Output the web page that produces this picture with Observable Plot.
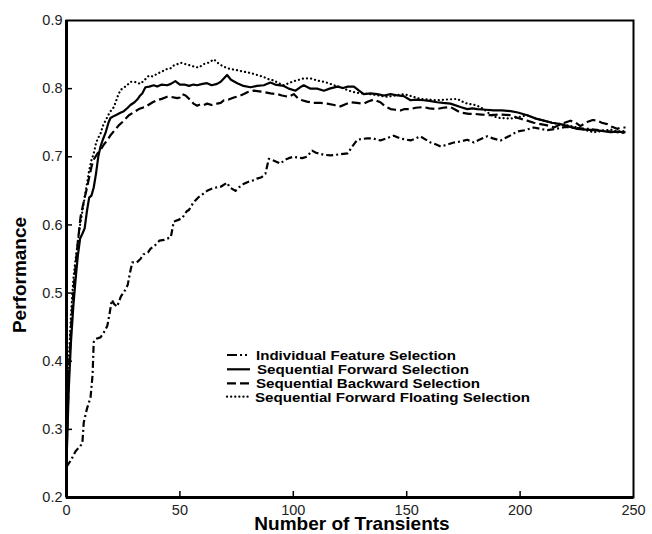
<!DOCTYPE html>
<html>
<head>
<meta charset="utf-8">
<script src="https://cdn.jsdelivr.net/npm/d3@7"></script>
<script src="https://cdn.jsdelivr.net/npm/@observablehq/plot@0.6"></script>
<style>
  html, body { margin: 0; padding: 0; background: #fff; }
  svg { font-family: "Liberation Sans", Arial, sans-serif; }
</style>
</head>
<body>
<div id="chart"></div>
<script>
const seriesNames = [
  "Individual Feature Selection",
  "Sequential Forward Selection",
  "Sequential Backward Selection",
  "Sequential Forward Floating Selection"
];
const xTicks = [0, 50, 100, 150, 200, 250];
const yTicks = [0.2, 0.3, 0.4, 0.5, 0.6, 0.7, 0.8, 0.9];
const xTitle = "Number of Transients";
const yTitle = "Performance";

const ifs = [[0,0.245],[2,0.255],[4,0.268],[6,0.275],[7,0.28],[7.6,0.31],[9,0.33],[10.6,0.347],[11.5,0.38],[12,0.428],[13,0.433],[15,0.435],[17,0.445],[18,0.452],[19,0.47],[20,0.49],[21,0.484],[22.3,0.48],[24,0.495],[26,0.505],[27,0.512],[28,0.53],[29,0.545],[31,0.545],[32.6,0.55],[34,0.557],[36,0.56],[37,0.565],[39,0.57],[41,0.577],[43,0.578],[46,0.582],[47.3,0.605],[49,0.607],[51,0.61],[53,0.62],[54,0.622],[56,0.633],[58,0.64],[60,0.645],[62,0.65],[64,0.653],[66,0.655],[68,0.656],[70.8,0.662],[72,0.655],[74.5,0.65],[76,0.655],[78,0.66],[80,0.663],[82,0.665],[84,0.668],[86,0.67],[87.7,0.675],[89.2,0.697],[91,0.695],[93,0.692],[94.4,0.69],[96,0.695],[98,0.698],[100,0.7],[102,0.699],[104,0.698],[106,0.7],[108.3,0.709],[110,0.706],[113.5,0.703],[116.4,0.702],[119,0.703],[121,0.704],[124,0.705],[126,0.715],[128.2,0.725],[130,0.726],[132.6,0.727],[135,0.727],[138.4,0.724],[141,0.727],[144.3,0.731],[147,0.727],[151.7,0.724],[154,0.727],[156,0.73],[158,0.726],[160.5,0.721],[163,0.718],[165,0.715],[168,0.718],[170.8,0.721],[173,0.722],[176.7,0.725],[179.6,0.721],[182,0.725],[185.5,0.73],[188,0.727],[191.4,0.724],[195,0.73],[198.7,0.737],[202,0.739],[206,0.743],[209,0.741],[212,0.739],[216,0.741],[220,0.744],[225,0.742],[230,0.741],[235,0.739],[240,0.737],[246,0.735]];

const sfs = [[0,0.25],[1,0.36],[2,0.43],[3,0.48],[4,0.52],[5,0.555],[6,0.58],[7,0.587],[8,0.595],[9,0.62],[10,0.64],[11,0.643],[12,0.655],[13,0.675],[14,0.7],[15,0.715],[16,0.725],[17.2,0.735],[18.5,0.75],[19.4,0.757],[21,0.76],[22.3,0.762],[24,0.765],[25.3,0.767],[27,0.772],[28.2,0.776],[30,0.78],[31.2,0.784],[32.5,0.79],[33.4,0.793],[34.8,0.802],[36.5,0.803],[38.5,0.805],[40,0.803],[42,0.806],[44.4,0.805],[46,0.807],[48,0.811],[50,0.806],[52,0.806],[54,0.804],[56,0.806],[57.6,0.805],[60,0.807],[62,0.808],[64,0.805],[66.4,0.807],[68,0.81],[70.8,0.82],[72.5,0.813],[75.3,0.808],[78,0.804],[81.1,0.802],[84,0.804],[87,0.805],[89.9,0.809],[92,0.806],[95.8,0.804],[98,0.8],[101,0.797],[103,0.802],[104.6,0.805],[107.6,0.8],[110.5,0.8],[113.5,0.797],[116,0.8],[119.4,0.803],[122,0.801],[124,0.803],[126.7,0.803],[129,0.797],[131.1,0.792],[134,0.793],[137,0.792],[140,0.79],[142.9,0.792],[146,0.79],[148.7,0.789],[151.7,0.783],[154,0.784],[157.5,0.783],[160,0.782],[163.4,0.78],[166,0.779],[169.3,0.778],[173.7,0.773],[176.7,0.77],[179,0.771],[181.1,0.77],[185,0.769],[188.4,0.768],[192,0.768],[195.8,0.767],[199,0.765],[203.1,0.761],[207,0.756],[210.5,0.753],[214,0.75],[217.8,0.748],[221,0.745],[225.2,0.741],[229,0.74],[232.5,0.739],[236,0.738],[239.9,0.736],[243,0.737],[246.5,0.736]];

const sbs = [[0,0.26],[1,0.38],[2,0.45],[3,0.5],[4,0.54],[5,0.575],[6.2,0.612],[7,0.625],[8,0.64],[9.1,0.655],[10,0.67],[11,0.685],[12,0.696],[13.5,0.704],[15,0.71],[16.5,0.718],[17.9,0.724],[19.5,0.732],[21,0.738],[23,0.746],[25,0.752],[27.5,0.761],[29.5,0.765],[31.9,0.77],[33.5,0.772],[35.6,0.775],[38,0.78],[40,0.783],[42,0.785],[44.4,0.788],[46,0.788],[48.8,0.786],[50,0.787],[51,0.792],[52.5,0.79],[54.7,0.783],[56,0.778],[57.6,0.775],[59,0.777],[60.5,0.776],[62,0.778],[64,0.776],[66.4,0.778],[68,0.779],[69.4,0.783],[71.5,0.784],[73.8,0.787],[76,0.789],[78.2,0.792],[80,0.795],[82.6,0.797],[85,0.796],[87,0.795],[90,0.793],[92.9,0.792],[95,0.79],[98,0.788],[100.2,0.792],[102,0.786],[103.9,0.783],[106,0.781],[109,0.779],[112,0.779],[114.9,0.778],[118,0.776],[120.8,0.774],[123,0.777],[125.2,0.78],[128,0.779],[131.1,0.778],[133,0.781],[135.5,0.784],[138.4,0.78],[140.5,0.774],[142.9,0.77],[145,0.769],[147.3,0.768],[149,0.77],[151.7,0.77],[154,0.772],[157.5,0.773],[160,0.771],[163.4,0.77],[166,0.772],[169.3,0.773],[171.5,0.769],[173.7,0.765],[177.4,0.763],[179.6,0.763],[183,0.762],[187,0.761],[191,0.762],[195.8,0.761],[199,0.757],[203.1,0.753],[206,0.75],[209,0.748],[212,0.746],[214.9,0.743],[218,0.748],[222.2,0.753],[224.5,0.75],[226.6,0.745],[228,0.748],[229.6,0.751],[232,0.754],[234,0.753],[236,0.75],[238.4,0.748],[240.5,0.744],[242.8,0.741],[244.5,0.743],[246.5,0.743]];

const sffs = [[0,0.27],[1,0.4],[2,0.47],[3,0.52],[4,0.55],[5,0.575],[6,0.6],[7,0.62],[8,0.64],[9,0.66],[10,0.68],[11,0.695],[12,0.705],[13,0.72],[14,0.728],[15,0.734],[16,0.745],[17.2,0.753],[19,0.765],[20.9,0.773],[22.5,0.788],[23.8,0.798],[25.5,0.802],[27,0.806],[28.2,0.81],[30,0.81],[32.6,0.807],[34.5,0.813],[36.3,0.819],[38,0.818],[40,0.822],[42,0.825],[44.4,0.829],[46,0.83],[47.3,0.834],[49,0.836],[50.3,0.838],[52.5,0.836],[54.7,0.834],[56.5,0.832],[58.3,0.831],[60.5,0.836],[62.5,0.838],[65,0.843],[67,0.837],[69.4,0.832],[72,0.829],[75.3,0.827],[78,0.825],[81.1,0.823],[84,0.82],[87,0.817],[89,0.814],[91.4,0.812],[93.5,0.808],[95.8,0.805],[98,0.808],[100.2,0.811],[102.5,0.813],[104.6,0.815],[107.6,0.815],[110.5,0.812],[113.5,0.81],[115.5,0.808],[117.9,0.805],[120,0.803],[122.3,0.8],[124.5,0.797],[126.7,0.795],[130,0.793],[134,0.792],[137.5,0.79],[141.4,0.788],[145,0.79],[148.7,0.792],[152,0.789],[156,0.785],[159.5,0.784],[163.4,0.783],[167.5,0.784],[172.3,0.785],[174.5,0.781],[176.7,0.778],[179,0.777],[181.1,0.775],[184,0.77],[186.5,0.763],[188.4,0.759],[191,0.757],[195.8,0.756],[199,0.758],[203.1,0.761],[207,0.756],[210.5,0.753],[214,0.75],[217.8,0.748],[221,0.746],[225.2,0.743],[229,0.739],[232.5,0.736],[236,0.738],[239.9,0.74],[243,0.737],[246.5,0.738]];

const W = 652, H = 534;
const M = {left: 66, right: 19, top: 20, bottom: 37};
const plotW = W - M.left - M.right, plotH = H - M.top - M.bottom;

const styles = [
  {dash: "7,3,2,3", cap: "butt"},
  {dash: null, cap: "butt"},
  {dash: "9,4", cap: "butt"},
  {dash: "0.1,4", cap: "round"}
];
const legendDashes = ["10,3,2,3,2,3", null, "9,4", "0.1,4"];
const seriesData = [ifs, sfs, sbs, sffs];

const lineMarks = seriesData.map((d, i) => Plot.line(d, {
  x: p => p[0], y: p => p[1],
  stroke: "#000", strokeWidth: 2.2,
  strokeDasharray: styles[i].dash ?? undefined,
  strokeLinecap: styles[i].cap,
  strokeLinejoin: "round"
}));

const chart = Plot.plot({
  width: W, height: H,
  marginLeft: M.left, marginRight: M.right, marginTop: M.top, marginBottom: M.bottom,
  style: {fontFamily: "'Liberation Sans', Arial, sans-serif", background: "#fff", color: "#000"},
  x: {domain: [0, 250]},
  y: {domain: [0.2, 0.9]},
  marks: [
    ...lineMarks,
    Plot.tickX(xTicks.slice(1, -1), {x: d => d, insetTop: plotH - 6, strokeWidth: 1.5}),
    Plot.tickY(yTicks.slice(1, -1), {y: d => d, insetRight: plotW - 6, strokeWidth: 1.5}),
    Plot.axisX({ticks: xTicks, tickSize: 0, tickPadding: 7, fontSize: 14.5, fill: "#222", label: null}),
    Plot.axisY({ticks: yTicks, tickSize: 0, tickPadding: 4, fontSize: 14.5, fill: "#222", tickFormat: d3.format(".1f"), label: null}),
    Plot.frame({strokeWidth: 2}),
    Plot.ruleX([0], {strokeWidth: 3}),
    Plot.ruleY([0.2], {strokeWidth: 3})
  ]
});
document.getElementById("chart").append(chart);

const svg = d3.select(chart);
// axis titles
svg.append("text")
  .attr("x", 352).attr("y", 530)
  .attr("text-anchor", "middle")
  .attr("font-size", 19).attr("font-weight", "bold").attr("fill", "#000")
  .text(xTitle);
svg.append("text")
  .attr("transform", "translate(26,275) rotate(-90)")
  .attr("text-anchor", "middle")
  .attr("font-size", 19).attr("font-weight", "bold").attr("fill", "#000")
  .text(yTitle);

// legend inside the plot area
const lg = svg.append("g");
const rowY = [355, 369.3, 383.3, 396.7];
const textX = [256, 257, 256, 255];
const textW = [200, 212, 224, 275];
seriesNames.forEach((name, i) => {
  lg.append("line")
    .attr("x1", 227).attr("x2", 250)
    .attr("y1", rowY[i]).attr("y2", rowY[i])
    .attr("stroke", "#000").attr("stroke-width", 2.2)
    .attr("stroke-linecap", styles[i].cap)
    .attr("stroke-dasharray", legendDashes[i]);
  lg.append("text")
    .attr("x", textX[i]).attr("y", rowY[i])
    .attr("dy", "0.36em")
    .attr("text-anchor", "start")
    .attr("font-size", 13.5).attr("font-weight", "bold")
    .attr("textLength", textW[i]).attr("lengthAdjust", "spacingAndGlyphs")
    .attr("fill", "#000")
    .text(name);
});
</script>
</body>
</html>
